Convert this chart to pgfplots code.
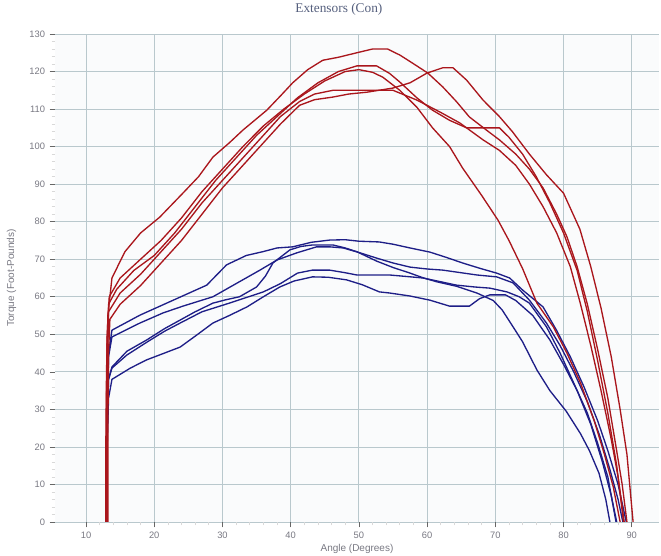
\documentclass[border=0pt]{standalone}
\usepackage{pgfplots}
\pgfplotsset{compat=1.18}
\usepackage{fontspec}
\setmainfont{Liberation Sans}
\newfontfamily\titlefont{Liberation Serif}
\definecolor{redc}{RGB}{170,22,28}
\definecolor{bluec}{RGB}{30,30,135}
\definecolor{gridc}{RGB}{185,200,205}
\definecolor{txtc}{RGB}{120,120,130}
\definecolor{titc}{RGB}{85,95,125}
\begin{document}
\begin{tikzpicture}
\path[use as bounding box] (-41.25pt,-25.5pt) rectangle (454.5pt,391.5pt);
\begin{axis}[
  at={(0,0)}, anchor=south west,
  scale only axis, width=453pt, height=366pt,
  xmin=5.45, xmax=94, ymin=0, ymax=130,
  xtick={10,20,...,90}, ytick={0,10,...,130},
  minor x tick num=4, minor y tick num=4,
  axis line style={draw=none},
  axis background/.style={fill={rgb,255:red,250;green,251;blue,252}},
  grid=major, major grid style={gridc, line width=0.6pt},
  tick style={black!60, line width=0.5pt},
  major tick length=4pt, minor tick length=2.5pt,
  minor tick style={black!15},
  xtick pos=bottom, ytick pos=left,
  tick align=outside,
  /pgf/number format/assume math mode=true,
  ticklabel style={font=\fontsize{7}{8}\selectfont, text=txtc},
  title={\titlefont Extensors (Con)},
  title style={font=\fontsize{10}{12}\selectfont, text=titc, at={(axis description cs:0.47,1.035)}, anchor=center},
  xlabel={Angle (Degrees)},
  ylabel={Torque (Foot-Pounds)},
  label style={font=\fontsize{7.5}{9}\selectfont, text=txtc},
  xlabel style={at={(axis description cs:0.5,-0.055)}, anchor=center},
  ylabel style={at={(axis description cs:-0.072,0.5)}, anchor=center, rotate=0},
  every axis plot/.append style={line width=1pt, line join=round},
  clip=true,
]
% ---- blue curves
\addplot[bluec] coordinates {(13.0,0) (13.1,25) (13.3,45) (13.8,51.1) (17.9,55.1) (22.8,59.1) (27.7,63.1) (30.6,68.5) (33.5,71) (35.9,72) (38,73) (40.3,73.3) (43,74.5) (45.7,75.1) (48,75.2) (50,74.8) (53,74.6) (55,74) (57.5,73) (60.4,71.9) (62.8,70.5) (65.2,69) (67.7,67.6) (70.2,66.3) (72.1,65) (74,61.8) (77,57.3) (79,51) (81,44) (83,36) (85,27) (86.5,19) (88,10) (89.2,0)};
\addplot[bluec] coordinates {(13.0,0) (13.1,25) (13.3,44) (13.8,49.3) (17.9,53) (21.3,55.7) (24.2,57.5) (28.6,60) (32,63.5) (35.5,67.1) (38,69.8) (40.9,71.7) (43.8,73.3) (45.7,73.3) (47.7,73) (50,71.8) (52.6,70.3) (55,69) (57.5,67.9) (60,67.4) (62.3,67.1) (65,66.4) (67.3,65.8) (70.2,65.3) (72.6,63.7) (75,59.1) (77.5,53) (79.5,47) (81.5,40) (83.5,32) (85.3,23) (86.8,14) (88,6) (88.7,0)};
\addplot[bluec] coordinates {(13.0,0) (13.1,25) (13.3,38) (13.8,41.3) (16,45.5) (18.9,48.5) (21.5,51.5) (23.8,53.8) (26,56) (28.6,58.3) (30.5,59.2) (32.5,60) (35,62.6) (36.3,65.5) (37.4,69) (39.9,72.5) (41.5,73.4) (43.2,73.8) (46.2,73.8) (48,73) (49.7,72) (52.6,69.5) (55,67.8) (57.5,66.3) (59.5,65) (61.4,64) (64.3,62.8) (67.3,61) (69.7,59) (71,56.5) (72.6,52) (74,48) (76.1,40.5) (78,35) (80.4,29.5) (82.5,23.5) (83.8,19) (85.2,13) (86.2,6) (86.8,0)};
\addplot[bluec] coordinates {(13.0,0) (13.1,25) (13.3,38) (13.8,41) (16,44.5) (19,48) (21.5,50.8) (23.8,53) (27,56) (31,58.3) (33.5,59.8) (36,61.3) (38.5,63.5) (41,66.3) (43.2,67.1) (45.7,67.1) (48,66.4) (49.7,65.8) (52,65.8) (54.5,65.8) (57,65.4) (59.4,65) (62,64) (64.3,63.1) (67,62.6) (69.2,62.3) (71.7,61.3) (73.5,60) (75,58.3) (77.5,52) (79.5,45) (81.5,37) (83.5,29) (85,21) (86.5,12) (87.7,0)};
\addplot[bluec] coordinates {(13.0,0) (13.1,20) (13.3,33) (13.8,38) (16.5,41) (18.9,43.2) (21.5,45) (23.8,46.6) (26,49.5) (28.6,53) (31,55) (33.6,57.3) (36,60) (38.4,62.6) (40.5,64.2) (43.2,65.3) (45.5,65.2) (48.2,64.5) (50.5,63.2) (53,61.3) (54.5,61) (57.5,60.2) (60.4,59.1) (63.3,57.5) (66.2,57.5) (67.7,59.5) (69.2,60.5) (71.5,60.5) (73,59) (75.5,55) (78,48.5) (80,42) (82,35) (84,26) (85.7,16) (87,7) (87.8,0)};
% ---- red curves
\addplot[redc] coordinates {(12.9,0) (12.9,20) (13.0,40) (13.2,55) (13.8,65) (15.7,72) (18,77) (20.8,81.2) (24.2,87.6) (26.5,92) (28.6,97.2) (31,101) (33,104.4) (36.5,109.7) (38.5,113.5) (40.3,117) (42.5,120.5) (44.7,123) (47,123.8) (49.7,125) (52,126) (54.2,126) (56,124.4) (57.9,122.2) (60.1,119.6) (62.3,115.9) (64.3,112) (66.2,107.9) (68.7,104.4) (70.6,101.8) (73,98) (75,94) (77,89) (79,82) (80.5,76) (82,68) (83.5,58) (85,46) (86.5,33) (87.7,20) (88.6,10) (89.3,0)};
\addplot[redc] coordinates {(13.1,0) (13.1,25) (13.2,45) (13.3,58) (14.5,62) (17,67) (20,71) (23,77) (26,84) (29,91) (32,97) (35,103) (38,108) (41,113) (44,117) (47,120) (49.7,121.5) (52.6,121.5) (54.5,119.5) (56,117.2) (58.5,113) (60.8,109.7) (63.3,107) (65.8,105) (68,105) (70.6,105) (72,102.5) (74,98) (76,92) (78,85) (80,77) (82,67) (83.5,56) (85,43) (86.5,29) (87.8,15) (88.8,0)};
\addplot[redc] coordinates {(13.0,0) (13.0,30) (13.1,50) (13.4,60) (15,65) (18,70) (21,75) (24,81) (27,88) (30,94) (33,100) (36,105.5) (39,110) (42,114) (45,117.5) (48,120) (50,120.5) (52,119.8) (53.5,118.5) (56,115) (58.5,110.5) (60.8,105) (63.3,100) (65.2,94.3) (68,87) (70.4,80.4) (72,75) (74,67.5) (76.1,58.3) (78.5,52) (80.5,45) (82.5,37) (84.5,27) (86,18) (87.3,9.3) (88.3,0)};
\addplot[redc] coordinates {(13.2,0) (13.2,25) (13.3,45) (13.5,54) (15,58) (18,63) (21,69) (24,75) (27,82) (30,89) (33,95) (36,101) (38.5,106) (41.3,111) (43.5,112.5) (46.2,113.2) (48.5,114) (51.2,114.5) (55,115.6) (57.5,117) (60,119.6) (62.3,121) (63.8,121) (65.8,117.7) (68.2,112.4) (70.6,108) (72.5,104) (75,98) (77.5,92.5) (80,87.6) (82.4,78) (84,68) (85.5,57) (87,44) (88.3,30) (89.3,18) (90.2,0)};
\addplot[redc] coordinates {(13.0,0) (13.0,30) (13.1,48) (13.3,56) (15,61) (18,66) (21,72) (24,78) (27,85) (30,91) (33,97) (36,103) (38.5,108) (41.3,112) (43.5,114) (46.2,115) (50,115) (55,115) (58.5,112.4) (61.9,109.2) (64.8,106.3) (68.2,101.8) (70.6,99) (73,95) (75,90) (77,84) (79,77) (81,68) (82.5,58) (84,47) (85.5,35) (87,22) (88,12) (88.9,0)};
\end{axis}
\end{tikzpicture}
\end{document}
